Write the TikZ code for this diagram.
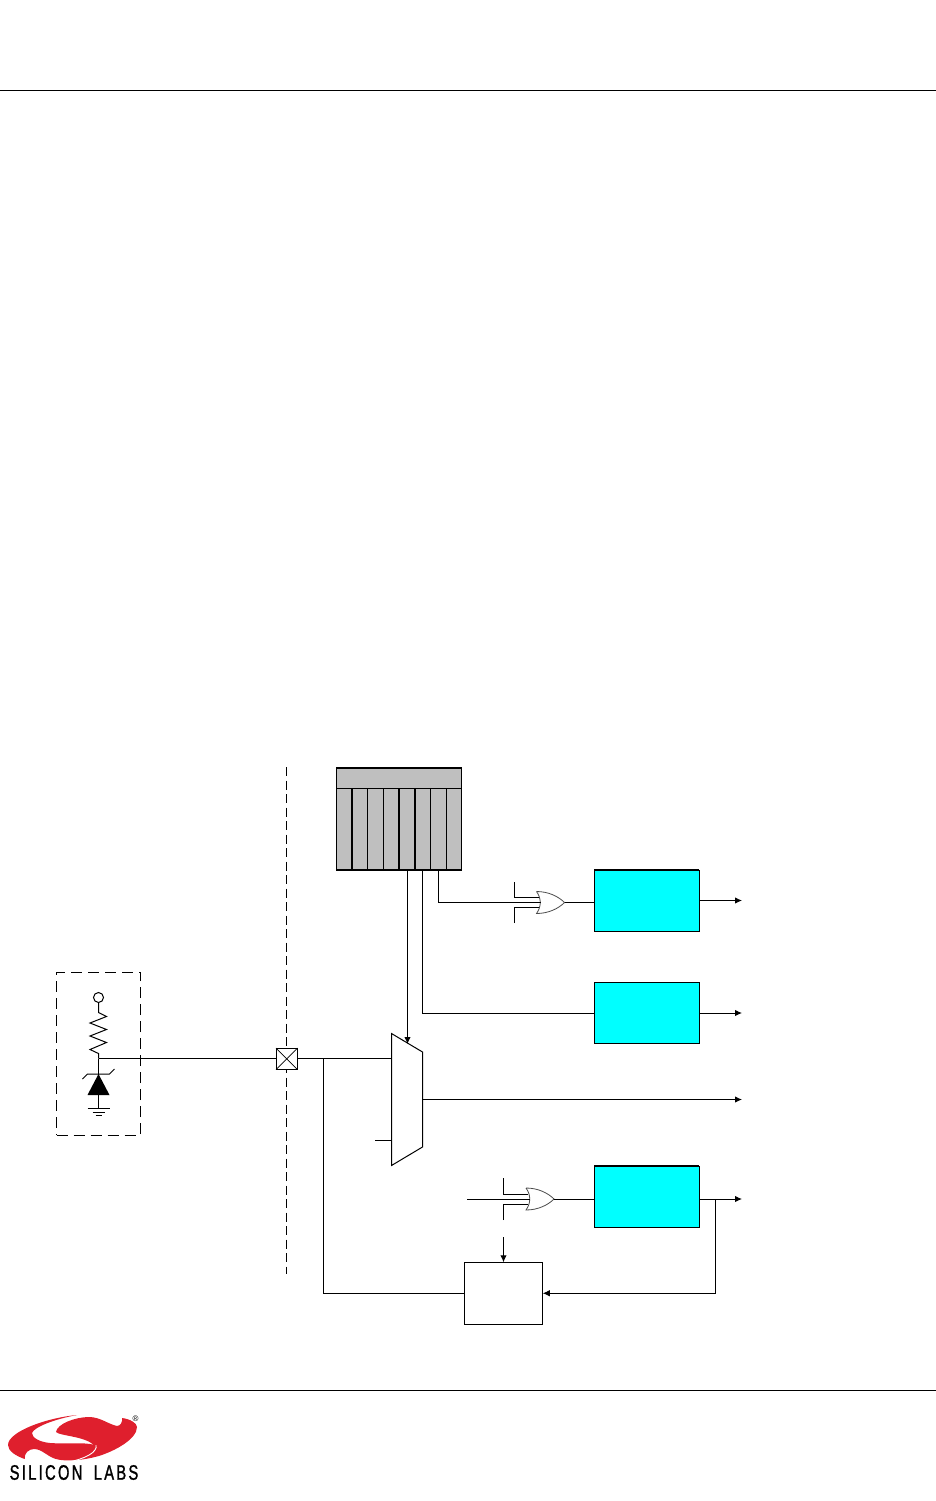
\documentclass[tikz,border=0pt]{standalone}
\usepackage{xcolor}
\usepackage{fontspec}
\usetikzlibrary{arrows.meta}
\newfontfamily\logofont[LetterSpace=11,FakeStretch=0.70,FakeBold=1.2]{Liberation Sans}
\newfontfamily\markfont{Liberation Sans}
\definecolor{BlockCyan}{HTML}{00FFFF}
\definecolor{RegGray}{HTML}{BFBFBF}
\definecolor{LogoRed}{HTML}{DF1F2D}
\begin{document}
\begin{tikzpicture}[
  x=1pt, y=-1pt,
  line width=1pt,
  block/.style={rectangle, draw, fill=BlockCyan, minimum width=104.5pt, minimum height=61pt, inner sep=0pt, outer sep=0pt},
  plainbox/.style={rectangle, draw, fill=white, inner sep=0pt, outer sep=0pt},
  regbox/.style={rectangle, draw, fill=RegGray, inner sep=0pt, outer sep=0pt},
  arrow/.style={-{Latex[length=7pt,width=6.5pt]}},
  dashline/.style={dash pattern=on 9pt off 4.5pt},
  orgate/.pic={
    \draw[line width=0.8pt, draw=black!70, fill=white] (0,-11) .. controls (12,-11) and (22,-6) .. (28,0) .. controls (22,6) and (12,11) .. (0,11) .. controls (5,4) and (5,-4) .. (0,-11);
    \coordinate (-inA) at (2,-5);
    \coordinate (-inB) at (4,0);
    \coordinate (-inC) at (2,5);
    \coordinate (-out) at (28,0);
  }
]
\useasboundingbox (0,0) rectangle (936,1501);

% page rules
\coordinate (headL) at (0,90.5);
\coordinate (headR) at (936,90.5);
\coordinate (footL) at (0,1390.5);
\coordinate (footR) at (936,1390.5);
\draw (headL) -- (headR);
\draw (footL) -- (footR);

% boundary of the device
\coordinate (edgeT) at (286.5,767);
\coordinate (edgeB) at (286.5,1274);
\draw[dashline] (edgeT) -- (edgeB);

% external circuit
\node[rectangle, draw, dash pattern=on 11pt off 6pt, minimum width=84pt, minimum height=163pt, inner sep=0pt, outer sep=0pt] (ext) at (98.5,1053.5) {};
\node[circle, draw, minimum size=10pt, inner sep=0pt, outer sep=0pt] (vdd) at (98.5,997.5) {};
\coordinate (junc) at (98.5,1058.5);
\coordinate (gnd) at (98.5,1108);
\draw (vdd.south) -- (98.5,1012.5) -- (106.5,1016.5) -- (90,1023) -- (106.5,1029.5) -- (90,1036) -- (106.5,1042.5) -- (90,1049.5) -- (98.5,1053.5) -- (junc);
\draw (junc) -- (gnd);
\fill (98.5,1074) -- (109.5,1095) -- (87.5,1095) -- cycle;
\draw (82.5,1079) -- (87.5,1074) -- (109.5,1074) -- (114.5,1069);
\draw (87.5,1108) -- (109.5,1108);
\draw (92.5,1112) -- (104.5,1112);
\draw (95.5,1115.5) -- (101.5,1115.5);

% port pin
\node[plainbox, minimum size=21.5pt] (pad) at (286.75,1058.75) {};
\draw[line width=0.7pt] (pad.north west) -- (pad.south east);
\draw[line width=0.7pt] (pad.north east) -- (pad.south west);
\draw (junc) -- (junc -| pad.west);

% register
\node[regbox, line width=1.5pt, minimum width=125pt, minimum height=102pt] (reg) at (399,819) {};
\draw (336.5,788) -- (461.5,788);
\foreach \x/\w in {352/1.5,367.7/0.7,383.4/0.7,399.2/1.5,415/1.5,430.7/0.7,446.3/1.5}
  \draw[line width=\w pt] (\x,788) -- (\x,869);
\coordinate (regA) at (407.5,870);
\coordinate (regB) at (422.5,870);
\coordinate (regC) at (438.5,870);

% blocks
\node[block] (blockA) at (646.75,900.5) {};
\node[block] (blockB) at (646.75,1012.5) {};
\node[block] (blockC) at (646.75,1196.5) {};
\draw[line width=1.8pt] (blockA.south west) -- (blockA.north west) -- (blockA.north east);
\draw[line width=1.8pt] (blockB.south west) -- (blockB.north west);
\draw[line width=1.8pt] (blockC.south west) -- (blockC.north west) -- (blockC.north east);
\node[plainbox, minimum width=78.5pt, minimum height=62pt] (timer) at (503.5,1293.25) {};

% outputs
\coordinate (outA) at (742,900.5);
\coordinate (outB) at (742,1013);
\coordinate (outM) at (742,1099.5);
\coordinate (outC) at (742,1199);
\coordinate (tap) at (715.5,1199);

% mux
\coordinate (muxTL) at (391.5,1033.5);
\coordinate (muxTR) at (422.5,1052);
\coordinate (muxBR) at (422.5,1147);
\coordinate (muxBL) at (391.5,1165.5);
\draw[fill=white] (muxTL) -- (muxTR) -- (muxBR) -- (muxBL) -- cycle;
\coordinate (muxIn) at (391.5,1058.5);
\coordinate (muxSel) at (391.5,1140);
\coordinate (muxOut) at (422.5,1099.5);
\coordinate (muxTop) at (407.5,1044);
\coordinate (selEnd) at (375,1140);
\draw (muxIn -| pad.east) -- (muxIn);
\draw (selEnd) -- (muxSel);
\draw[arrow] (regA) -- (muxTop);

% gates
\pic (orA) at (536.5,902.5) {orgate};
\pic (orB) at (526,1199) {orgate};

\coordinate (stubAt) at (514,882);
\coordinate (stubAb) at (514,923);
\draw (stubAt) |- (orA-inA);
\draw (stubAb) |- (orA-inC);
\draw (regC) |- (orA-inB);
\draw (orA-out) -- (orA-out -| blockA.west);

\coordinate (stubBt) at (503.5,1178);
\coordinate (stubBb) at (503.5,1220);
\coordinate (inputB) at (467,1199);
\draw (stubBt) |- (orB-inA);
\draw (stubBb) |- (orB-inC);
\draw (inputB) -- (orB-inB);
\draw (orB-out) -- (orB-out -| blockC.west);

\draw (regB) |- (outB -| blockB.west);

\draw[arrow] (outA -| blockA.east) -- (outA);
\draw[arrow] (outB -| blockB.east) -- (outB);
\draw[arrow] (muxOut) -- (outM);
\draw[arrow] (tap -| blockC.east) -- (outC);

% feedback
\coordinate (trigT) at (503.5,1237);
\coordinate (fb) at (323.5,1058.5);
\draw[arrow] (trigT) -- (timer.north);
\draw[arrow] (tap) |- (timer.east);
\draw (timer.west) -| (fb);

% logo
\fill[LogoRed] (77,1415) .. controls (45,1418) and (8,1432) .. (8,1445) .. controls (8,1451) and (16,1456) .. (24.7,1459) .. controls (24,1453) and (29,1449) .. (34,1449) .. controls (42,1449) and (48,1457) .. (56,1459) .. controls (66,1462) and (85,1460) .. (98.7,1456) .. controls (115,1451) and (137,1439) .. (137,1427) .. controls (137,1423) and (130,1419) .. (122,1418) .. controls (123,1422) and (120,1426) .. (117,1426) .. controls (108,1424) and (100,1417) .. (89,1417) .. controls (75,1417) and (57,1424) .. (56,1432) .. controls (60,1436) and (84,1436) .. (94,1445) .. controls (88,1442) and (62,1444) .. (50,1443) .. controls (40,1442) and (32,1438) .. (32,1433) .. controls (34,1427) and (55,1419) .. (77,1415) -- cycle;
\draw[white, line width=0.9pt] (96,1445) .. controls (98,1452) and (85,1459) .. (68,1462);
\node[font=\logofont\fontsize{21}{21}\selectfont, inner sep=0pt, outer sep=0pt] (logotext) at (74,1472.5) {SILICON\hspace{5pt} LABS};
\node[font=\markfont\fontsize{8}{8}\selectfont, inner sep=0pt, outer sep=0pt] (logomark) at (135.5,1418.5) {®};
\end{tikzpicture}
\end{document}
